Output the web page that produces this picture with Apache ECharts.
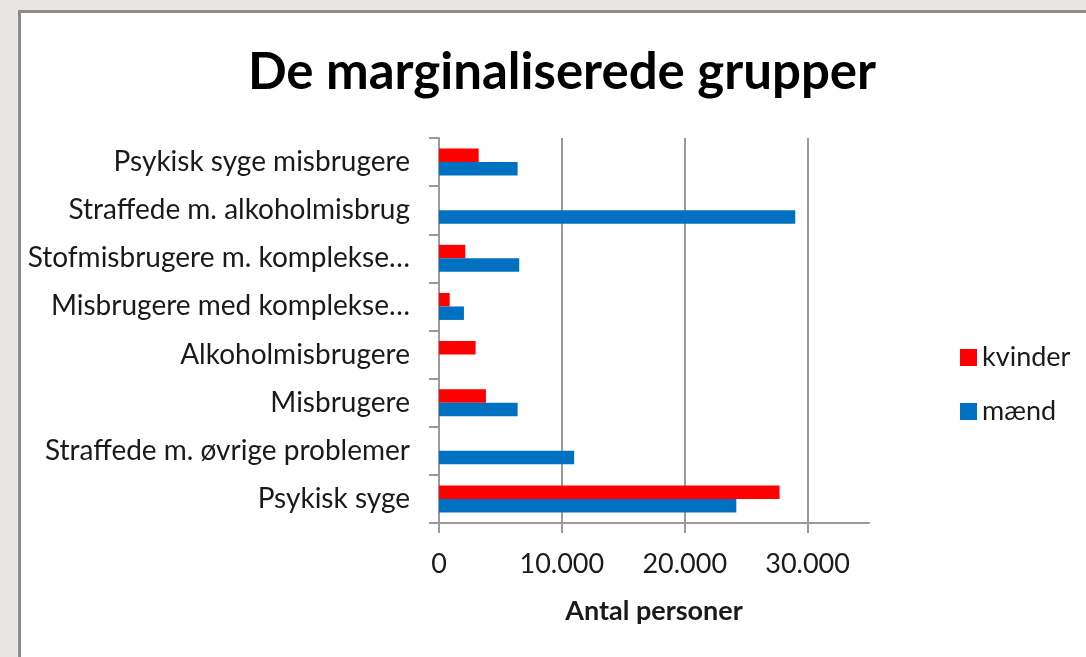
<!DOCTYPE html>
<html>
<head>
<meta charset="utf-8">
<script src="https://cdn.jsdelivr.net/npm/echarts@6/dist/echarts.min.js"></script>
<style>
html,body{margin:0;padding:0;width:1086px;height:657px;background:#E9E5E2;overflow:hidden;}
#panel{position:absolute;left:18px;top:10px;width:1100px;height:700px;background:#fff;border-left:3px solid #8c8c8c;border-top:3px solid #8c8c8c;box-sizing:border-box;}
#chart{position:absolute;left:0;top:0;width:1086px;height:657px;}
</style>
</head>
<body>
<div id="panel"></div>
<div id="chart"></div>
<script>
const categories = [
  'Psykisk syge misbrugere',
  'Straffede m. alkoholmisbrug',
  'Stofmisbrugere m. komplekse…',
  'Misbrugere med komplekse…',
  'Alkoholmisbrugere',
  'Misbrugere',
  'Straffede m. øvrige problemer',
  'Psykisk syge'
];
const kvinder = [3230, 0, 2140, 870, 2980, 3820, 0, 27720];
const maend   = [6400, 29000, 6530, 2030, 0, 6400, 11000, 24200];
const xTicks = [0, 10000, 20000, 30000];

const fontFam = 'Lato, "Open Sans", sans-serif';
const fmt = v => String(v).replace(/\B(?=(\d{3})+(?!\d))/g, '.');

const chart = echarts.init(document.getElementById('chart'), null, {renderer:'canvas'});
chart.setOption({
  backgroundColor: 'transparent',
  animation: false,
  title: {
    text: 'De marginaliserede grupper',
    left: 557, top: 42, textAlign: 'center',
    textStyle: {fontFamily: fontFam, fontWeight: 'bold', fontSize: 51, color: '#000'}
  },
  legend: {
    orient: 'vertical',
    left: 955, top: 339,
    itemWidth: 17, itemHeight: 17, itemGap: 27,
    icon: 'rect',
    data: ['kvinder', 'mænd'],
    textStyle: {fontFamily: fontFam, fontSize: 27, color: '#1a1a1a'}
  },
  grid: {left: 439, top: 138, right: 217, bottom: 134, containLabel: false},
  xAxis: {
    type: 'value',
    min: 0, max: 35000, interval: 10000,
    name: 'Antal personer',
    nameLocation: 'middle',
    nameGap: 75,
    nameTextStyle: {fontFamily: fontFam, fontWeight: 'bold', fontSize: 27, color: '#1a1a1a'},
    axisLine: {show: true, lineStyle: {color: '#9a9a9a', width: 2}},
    axisTick: {show: true, length: 10, lineStyle: {color: '#9a9a9a', width: 2}},
    axisLabel: {
      fontFamily: fontFam, fontSize: 27, color: '#1a1a1a', margin: 28,
      showMaxLabel: false,
      formatter: v => (xTicks.indexOf(v) >= 0 ? fmt(v) : '')
    },
    splitLine: {show: true, showMaxLine: false, lineStyle: {color: '#9a9a9a', width: 2}}
  },
  yAxis: {
    type: 'category',
    inverse: true,
    data: categories,
    axisLine: {show: true, lineStyle: {color: '#9a9a9a', width: 2}},
    axisTick: {show: true, length: 10, lineStyle: {color: '#9a9a9a', width: 2}},
    axisLabel: {fontFamily: fontFam, fontSize: 28, color: '#1a1a1a', margin: 29}
  },
  series: [
    {name: 'kvinder', type: 'bar', data: kvinder, barWidth: 13.5, barGap: '0%',
     itemStyle: {color: '#FF0000'}},
    {name: 'mænd', type: 'bar', data: maend, barWidth: 13.5, barGap: '0%',
     itemStyle: {color: '#0070C0'}}
  ]
});
</script>
</body>
</html>
